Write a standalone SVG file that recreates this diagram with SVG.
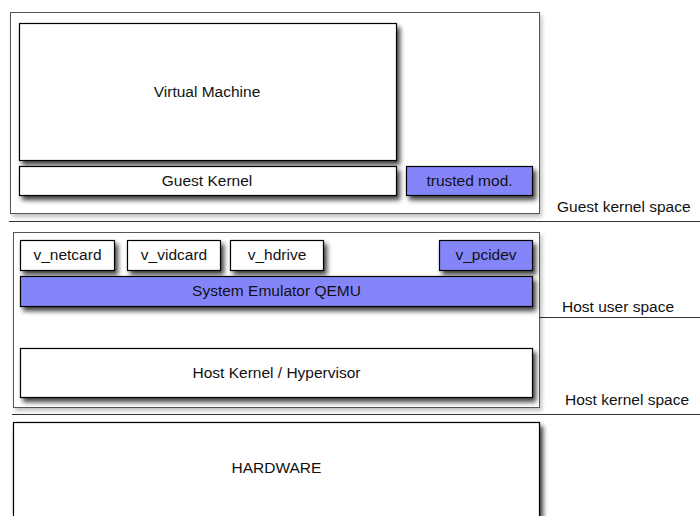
<svg xmlns="http://www.w3.org/2000/svg" width="700" height="516" viewBox="0 0 700 516">
<defs>
<filter id="sh" x="-10%" y="-20%" width="130%" height="150%">
<feGaussianBlur in="SourceAlpha" stdDeviation="2.5"/>
<feOffset dx="3" dy="4" result="b"/>
<feComponentTransfer><feFuncA type="linear" slope="0.75"/></feComponentTransfer>
<feMerge><feMergeNode/><feMergeNode in="SourceGraphic"/></feMerge>
</filter>
<filter id="shl" x="-5%" y="-5%" width="110%" height="115%">
<feGaussianBlur in="SourceAlpha" stdDeviation="2"/>
<feOffset dx="2" dy="3" result="b"/>
<feComponentTransfer><feFuncA type="linear" slope="0.25"/></feComponentTransfer>
<feMerge><feMergeNode/><feMergeNode in="SourceGraphic"/></feMerge>
</filter>
</defs>
<style>
.outer{fill:#fff;stroke:#555;stroke-width:1;}
.box{fill:#fff;stroke:#000;stroke-width:1.2;}
.pur{fill:#8585fa;stroke:#000;stroke-width:1.2;}
.sep{stroke:#333;stroke-width:1.2;fill:none;}
text{font-family:"Liberation Sans",Arial,sans-serif;font-size:15.5px;fill:#111;}
.c{text-anchor:middle;}
</style>
<rect width="700" height="516" fill="#fff"/>
<g id="guest-space">
<rect class="outer" x="10.5" y="12.5" width="529" height="201" filter="url(#shl)"/>
</g>
<g id="virtual-machine">
<rect class="box" x="19.5" y="23.5" width="377" height="137" filter="url(#sh)"/>
<text class="c" x="207" y="97">Virtual Machine</text>
</g>
<g id="guest-kernel">
<rect class="box" x="19.5" y="166.5" width="377" height="29" filter="url(#sh)"/>
<text class="c" x="207" y="186">Guest Kernel</text>
</g>
<g id="trusted-mod">
<rect class="pur" x="406.5" y="166.5" width="126" height="29" filter="url(#sh)"/>
<text class="c" x="469.5" y="186">trusted mod.</text>
</g>
<g id="host-space">
<rect class="outer" x="13.5" y="232.5" width="526" height="175" filter="url(#shl)"/>
</g>
<g id="v-netcard">
<rect class="box" x="20.5" y="240.5" width="94" height="30" filter="url(#sh)"/>
<text class="c" x="67.5" y="260">v_netcard</text>
</g>
<g id="v-vidcard">
<rect class="box" x="127.5" y="240.5" width="93" height="30" filter="url(#sh)"/>
<text class="c" x="174" y="260">v_vidcard</text>
</g>
<g id="v-hdrive">
<rect class="box" x="230.5" y="240.5" width="93" height="30" filter="url(#sh)"/>
<text class="c" x="277" y="260">v_hdrive</text>
</g>
<g id="v-pcidev">
<rect class="pur" x="439.5" y="240.5" width="93" height="30" filter="url(#sh)"/>
<text class="c" x="486" y="260">v_pcidev</text>
</g>
<g id="qemu">
<rect class="pur" x="20.5" y="276.5" width="512" height="30" filter="url(#sh)"/>
<text class="c" x="276.5" y="296">System Emulator QEMU</text>
</g>
<g id="host-kernel">
<rect class="box" x="20.5" y="348.5" width="512" height="49" filter="url(#sh)"/>
<text class="c" x="276.5" y="378">Host Kernel / Hypervisor</text>
</g>
<g id="hardware">
<rect class="box" x="13.5" y="422.5" width="526" height="110" filter="url(#sh)"/>
<text class="c" x="276.5" y="473">HARDWARE</text>
</g>
<g id="connectors">
<line class="sep" x1="9" y1="221.5" x2="700" y2="221.5"/>
<line class="sep" x1="539" y1="317.5" x2="700" y2="317.5"/>
<line class="sep" x1="12" y1="414.5" x2="700" y2="414.5"/>
</g>
<g id="labels">
<text x="557" y="212">Guest kernel space</text>
<text x="562" y="312">Host user space</text>
<text x="565" y="405">Host kernel space</text>
</g>
</svg>
